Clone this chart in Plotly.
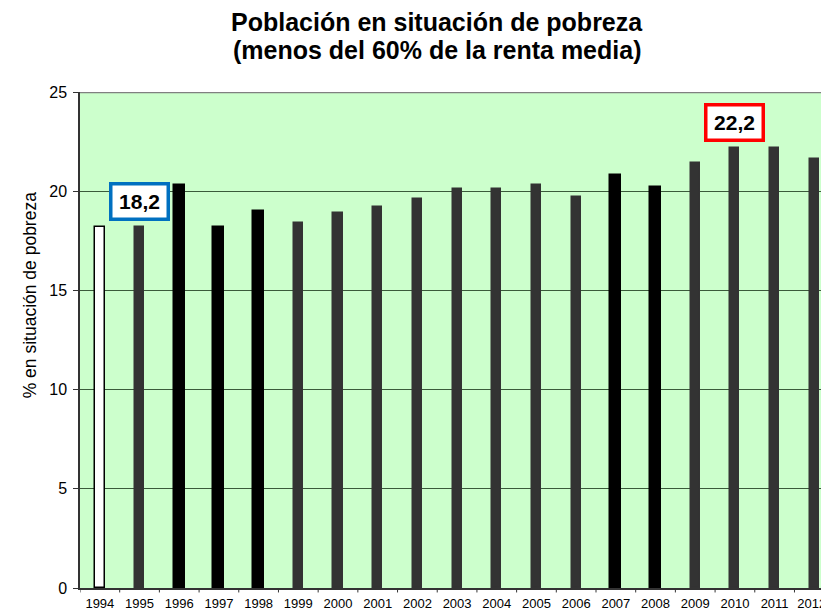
import plotly.graph_objects as go

years = ["1994", "1995", "1996", "1997", "1998", "1999", "2000", "2001", "2002", "2003",
         "2004", "2005", "2006", "2007", "2008", "2009", "2010", "2011", "2012*"]
values = [18.2, 18.2, 20.3, 18.2, 19.0, 18.4, 18.9, 19.2, 19.6, 20.1,
          20.1, 20.3, 19.7, 20.8, 20.2, 21.4, 22.2, 22.2, 21.6]
bar_kind = ["white", "gray", "black", "black", "black", "gray", "gray", "gray", "gray", "gray",
            "gray", "gray", "gray", "black", "black", "gray", "gray", "gray", "gray"]

fill_map = {"white": "#FFFFFF", "gray": "#333333", "black": "#000000"}
width_map = {"white": 0.25, "gray": 0.23, "black": 0.28}
colors = [fill_map[k] for k in bar_kind]
widths = [width_map[k] for k in bar_kind]
line_colors = ["#000000" if k == "white" else fill_map[k] for k in bar_kind]

idx = list(range(len(years)))
FONT = "Liberation Sans, Arial, sans-serif"

fig = go.Figure()
fig.add_trace(go.Bar(
    x=idx, y=values, width=widths,
    marker=dict(color=colors, line=dict(color=line_colors, width=1.5)),
    showlegend=False, hoverinfo="skip",
))

fig.add_annotation(x=1, y=19.46, xref="x", yref="y", text="<b>18,2</b>", showarrow=False,
                   font=dict(family=FONT, size=21, color="#000000"),
                   width=50, height=28, borderpad=2,
                   bgcolor="#FFFFFF", bordercolor="#0070C0", borderwidth=3.5)
fig.add_annotation(x=16, y=23.44, xref="x", yref="y", text="<b>22,2</b>", showarrow=False,
                   font=dict(family=FONT, size=21, color="#000000"),
                   width=50, height=28, borderpad=2,
                   bgcolor="#FFFFFF", bordercolor="#FF0000", borderwidth=3.5)

fig.add_annotation(x=-0.0668, y=0.592, xref="paper", yref="paper", text="% en situación de pobreza",
                   showarrow=False, textangle=-90, xanchor="center", yanchor="middle",
                   font=dict(family=FONT, size=17.5, color="#000000"))

fig.add_annotation(x=0.4766, y=1.141, xref="paper", yref="paper", showarrow=False,
                   text="<b>Población en situación de pobreza</b>", yanchor="middle",
                   font=dict(family=FONT, size=25, color="#000000"))
fig.add_annotation(x=0.4766, y=1.085, xref="paper", yref="paper", showarrow=False,
                   text="<b>(menos del 60% de la renta media)</b>", yanchor="middle",
                   font=dict(family=FONT, size=25, color="#000000"))

# top border line at 25
fig.add_shape(type="line", xref="paper", yref="y", x0=0, x1=1, y0=25, y1=25,
              line=dict(color="#808080", width=2.5))

fig.update_layout(
    width=821, height=603,
    margin=dict(l=72, r=0, t=84, b=23, autoexpand=False),
    paper_bgcolor="#FFFFFF", plot_bgcolor="#CCFFCC",
    font=dict(family=FONT, color="#000000"),
    bargap=0,
)
fig.update_xaxes(
    type="linear", range=[-0.5, 18.37], tickmode="array", tickvals=idx, ticktext=years,
    tickfont=dict(size=13), ticks="", showgrid=False, zeroline=False,
    ticklabeloverflow="allow", ticklabelstandoff=3,
    showline=True, linecolor="#333333", linewidth=1.5,
)
fig.update_yaxes(
    range=[0, 25], tickvals=[0, 5, 10, 15, 20, 25], ticks="outside", ticklen=5,
    tickcolor="#333333", tickfont=dict(size=16), showgrid=True, gridcolor="#3a5a3a",
    ticklabelstandoff=3,
    gridwidth=1, zeroline=False, showline=True, linecolor="#333333", linewidth=1.5,
)
# category boundary ticks on x axis
for i in range(len(years) + 1):
    fig.add_shape(type="line", xref="x", yref="paper", x0=i - 0.5, x1=i - 0.5, y0=0, y1=-0.009,
                  line=dict(color="#333333", width=1))

fig.write_html("out.html")
